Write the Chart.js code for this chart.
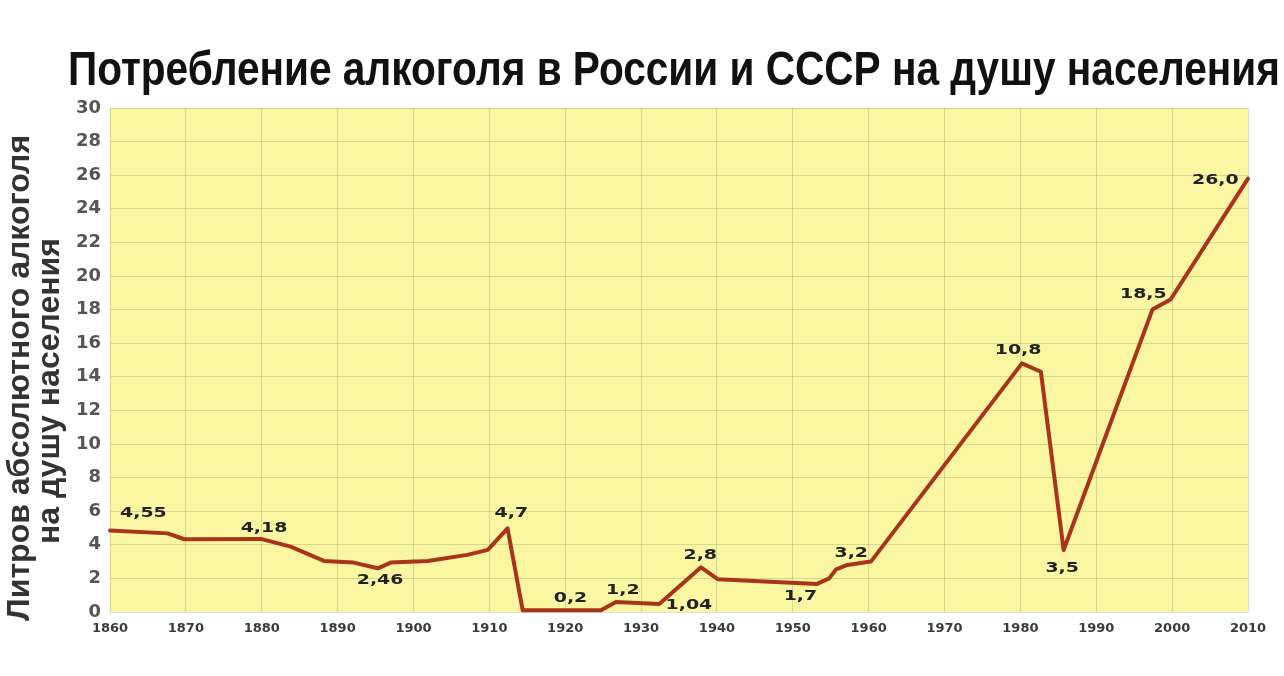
<!DOCTYPE html>
<html lang="ru">
<head>
<meta charset="utf-8">
<title>Потребление алкоголя в России и СССР</title>
<script src="https://cdn.jsdelivr.net/npm/chart.js@4.4.1/dist/chart.umd.min.js"></script>
<style>
    html, body { margin: 0; padding: 0; background: #ffffff; }
    #wrap { width: 1284px; height: 676px; position: relative; }
</style>
</head>
<body>
<div id="wrap"><canvas id="alcohol-chart"></canvas></div>
<script>
// Line as drawn on the picture (year, litres)
const years = [
    1860, 1867.6, 1869.8, 1879.9, 1883.8, 1888.2, 1892.1, 1895.3, 1897, 1901.9,
    1907.1, 1909.8, 1912.4, 1914.4, 1924.7, 1926.7, 1932.4, 1937.9, 1940.1, 1953.2,
    1954.8, 1955.7, 1957.2, 1960.3, 1980.2, 1982.7, 1985.7, 1997.4, 1999.8, 2010
];
const litres = [
    4.85, 4.68, 4.33, 4.35, 3.89, 3.04, 2.94, 2.6, 2.94, 3.04,
    3.4, 3.7, 4.98, 0.1, 0.1, 0.6, 0.48, 2.66, 1.95, 1.67,
    2.0, 2.54, 2.8, 3.0, 14.8, 14.3, 3.69, 18.0, 18.6, 25.8
];

// Value labels written on the chart and where they sit (year, litres)
const labelTexts = ['4,55', '4,18', '2,46', '4,7', '0,2', '1,2', '1,04', '2,8', '1,7', '3,2', '10,8', '3,5', '18,5', '26,0'];
const labelYears = [1864.4, 1880.3, 1895.6, 1912.9, 1920.7, 1927.6, 1936.3, 1937.8, 1951.0, 1957.7, 1979.7, 1985.5, 1996.2, 2005.7];
const labelValues = [5.89, 5.0, 1.9, 5.89, 0.83, 1.31, 0.42, 3.39, 0.95, 3.51, 15.6, 2.62, 18.93, 25.71];

const titleText = 'Потребление алкоголя в России и СССР на душу населения';
// trailing spaces nudge the rotated lines down a little, as in the picture
const yTitle = ['Литров абсолютного алкоголя    ', 'на душу населения       '];

// Yellow plot background
const plotBackground = {
    id: 'plotBackground',
    beforeDraw(chart) {
        const { ctx, chartArea: a } = chart;
        ctx.save();
        ctx.fillStyle = '#fbf6a2';
        ctx.fillRect(a.left, a.top, a.right - a.left, a.bottom - a.top);
        ctx.restore();
    }
};

// Wide bold value labels
const valueLabels = {
    id: 'valueLabels',
    afterDatasetsDraw(chart) {
        const { ctx, scales: { x, y } } = chart;
        ctx.save();
        ctx.font = 'bold 14px "DejaVu Sans", sans-serif';
        ctx.fillStyle = '#222222';
        ctx.textAlign = 'center';
        ctx.textBaseline = 'middle';
        labelTexts.forEach((t, i) => {
            const px = x.getPixelForValue(labelYears[i]);
            const py = y.getPixelForValue(labelValues[i]);
            ctx.save();
            ctx.translate(px, py);
            ctx.scale(1.35, 1);
            ctx.fillText(t, 0, 0);
            ctx.restore();
        });
        ctx.restore();
    }
};

// Heading squeezed to the picture's width
const heading = {
    id: 'heading',
    afterDraw(chart) {
        const { ctx } = chart;
        ctx.save();
        ctx.font = 'bold 48px "Liberation Sans", Arial, sans-serif';
        ctx.fillStyle = '#111111';
        ctx.textAlign = 'center';
        ctx.textBaseline = 'alphabetic';
        const w = ctx.measureText(titleText).width;
        ctx.translate(674, 85);
        ctx.scale(1212 / w, 1);
        ctx.fillText(titleText, 0, 0);
        ctx.restore();
    }
};

const points = years.map((yr, i) => ({ x: yr, y: litres[i] }));

new Chart(document.getElementById('alcohol-chart'), {
    type: 'line',
    data: {
        datasets: [{
            data: points,
            borderColor: '#a9341c',
            borderWidth: 4,
            pointRadius: 0,
            tension: 0,
            borderJoinStyle: 'round',
            borderCapStyle: 'round',
            clip: 4
        }]
    },
    options: {
        responsive: true,
        maintainAspectRatio: false,
        animation: false,
        layout: { padding: { top: 108, right: 36, left: 0, bottom: 0 } },
        plugins: {
            legend: { display: false },
            tooltip: { enabled: false },
            title: { display: false }
        },
        scales: {
            x: {
                type: 'linear',
                min: 1860,
                max: 2010,
                afterFit(scale) { scale.height = 64; },
                ticks: {
                    stepSize: 10,
                    padding: 9,
                    color: '#3a3a3a',
                    font: { family: '"DejaVu Sans", sans-serif', size: 13, weight: 'bold' },
                    callback: v => String(v)
                },
                grid: { color: 'rgba(140,150,110,0.32)', drawTicks: false },
                border: { display: false }
            },
            y: {
                min: 0,
                max: 30,
                afterFit(scale) { scale.width = 110; },
                ticks: {
                    stepSize: 2,
                    padding: 9,
                    color: '#555555',
                    font: { family: '"DejaVu Sans", sans-serif', size: 18, weight: 'bold' }
                },
                grid: { color: 'rgba(140,150,110,0.32)', drawTicks: false },
                border: { display: false },
                title: {
                    display: true,
                    text: yTitle,
                    color: '#333333',
                    font: { family: '"Liberation Sans", Arial, sans-serif', size: 32, weight: 'bold', lineHeight: 0.95 },
                    padding: { top: 5, bottom: 0 }
                }
            }
        }
    },
    plugins: [plotBackground, valueLabels, heading]
});
</script>
</body>
</html>
